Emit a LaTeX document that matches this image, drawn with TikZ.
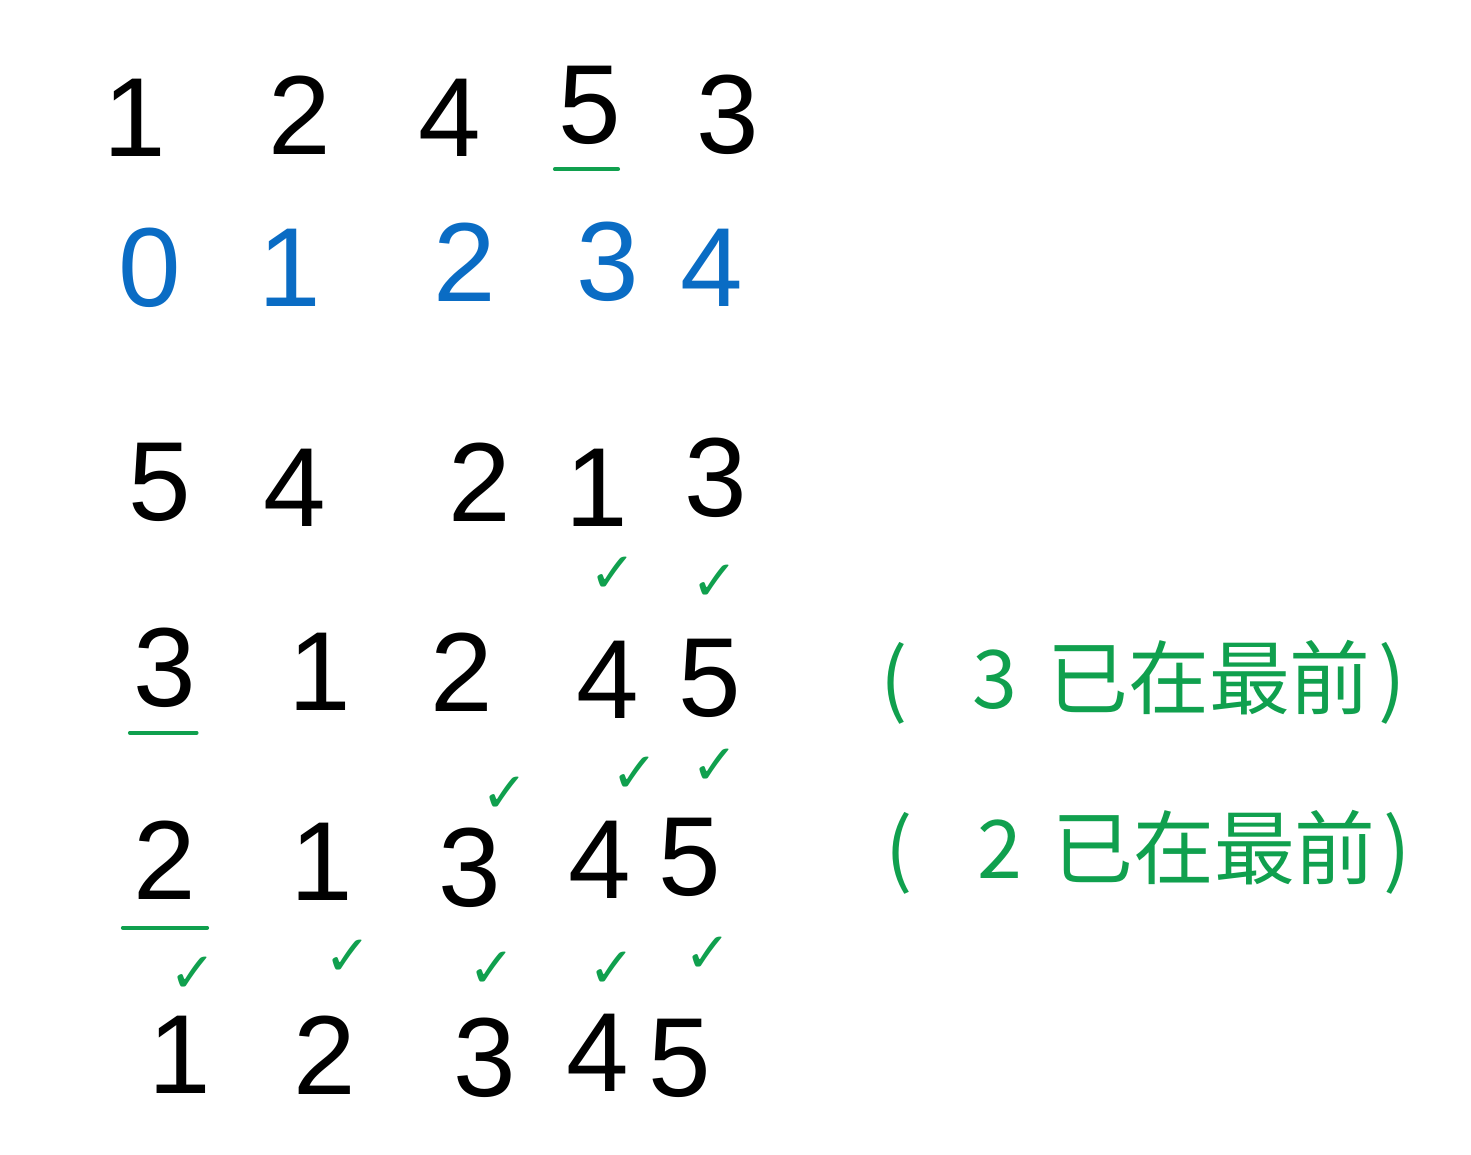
\documentclass[tikz,border=0pt]{standalone}
\usepackage{fontspec}
\setmainfont{Liberation Sans}
\newfontfamily\cjkfont{Noto Sans CJK SC}
\newfontfamily\symfont{DejaVu Sans}
\usetikzlibrary{positioning}
\definecolor{inkblue}{HTML}{0A6CC4}
\definecolor{inkgreen}{HTML}{10A04E}

\begin{document}
\begin{tikzpicture}[x=0.02cm, y=-0.02cm,
    digit/.style={font=\fontsize{64}{64}\selectfont, inner sep=0pt},
    index/.style={digit, text=inkblue},
    tick/.style={font=\symfont\fontsize{32}{32}\selectfont, text=inkgreen, inner sep=0pt},
    note/.style={font=\cjkfont\fontsize{46}{46}\selectfont, text=inkgreen, inner sep=0pt},
    underline/.style={draw=inkgreen, line width=2.2pt, line cap=round},
]
\useasboundingbox (0,0) rectangle (1471,1154);

% original sequence
\node[digit] (a1) at (135,118) {1};
\node[digit] (a2) at (300,115) {2};
\node[digit] (a3) at (450,118) {4};
\node[digit] (a4) at (590,105) {5};
\node[digit] (a5) at (728,115) {3};
\draw[underline] ([xshift=-20pt,yshift=-14pt]a4.south) -- ([xshift=16pt,yshift=-14pt]a4.south);

% positions
\node[index] (p0) at (150,268) {0};
\node[index] (p1) at (290,268) {1};
\node[index] (p2) at (465,262) {2};
\node[index] (p3) at (608,262) {3};
\node[index] (p4) at (712,268) {4};

% step 1
\node[digit] (b1) at (160,482) {5};
\node[digit] (b2) at (295,488) {4};
\node[digit] (b3) at (480,482) {2};
\node[digit] (b4) at (597,488) {1};
\node[digit] (b5) at (716,478) {3};

% step 2
\node[tick] (t1) at (613,575) {✓};
\node[tick] (t2) at (715,583) {✓};
\node[digit] (c1) at (165,668) {3};
\node[digit] (c2) at (320,672) {1};
\node[digit] (c3) at (462,672) {2};
\node[digit] (c4) at (608,680) {4};
\node[digit] (c5) at (710,678) {5};
\draw[underline] ([xshift=-20pt,yshift=-14pt]c1.south) -- ([xshift=18pt,yshift=-14pt]c1.south);
\node[note, anchor=west] (n1) at (880,682) {(\hspace{1.3cm}3\hspace{0.6cm}已在最前\hspace{0.15cm})};

% step 3
\node[tick] (t3) at (505,795) {✓};
\node[tick] (t4) at (635,775) {✓};
\node[tick] (t5) at (715,767) {✓};
\node[digit] (d1) at (165,860) {2};
\node[digit] (d2) at (322,862) {1};
\node[digit] (d3) at (470,868) {3};
\node[digit] (d4) at (600,860) {4};
\node[digit] (d5) at (690,857) {5};
\draw[underline] ([xshift=-24pt,yshift=-16pt]d1.south) -- ([xshift=24pt,yshift=-16pt]d1.south);
\node[note, anchor=west] (n2) at (885,852) {(\hspace{1.3cm}2\hspace{0.6cm}已在最前\hspace{0.15cm})};

% result
\node[tick] (t6) at (193,975) {✓};
\node[tick] (t7) at (348,958) {✓};
\node[tick] (t8) at (492,970) {✓};
\node[tick] (t9) at (612,970) {✓};
\node[tick] (t10) at (708,955) {✓};
\node[digit] (e1) at (180,1055) {1};
\node[digit] (e2) at (325,1055) {2};
\node[digit] (e3) at (485,1058) {3};
\node[digit] (e4) at (598,1053) {4};
\node[digit] (e5) at (680,1058) {5};

\end{tikzpicture}
\end{document}
